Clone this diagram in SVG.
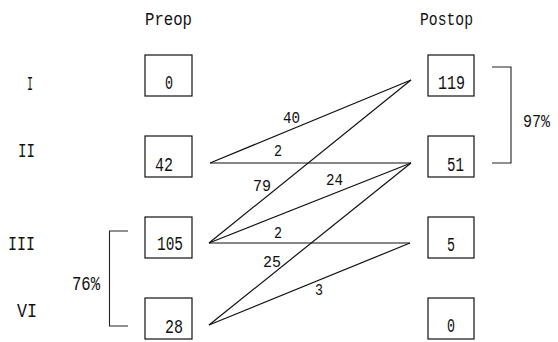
<svg xmlns="http://www.w3.org/2000/svg" width="558" height="342" viewBox="0 0 558 342">
  <style>
    .bg { fill: #ffffff; }
    .box { fill: #ffffff; stroke: #111; stroke-width: 1.2; }
    .t { font-family: "Liberation Mono", "DejaVu Sans Mono", monospace; fill: #111; }
    .head { font-size: 19px; }
    .row { font-size: 20px; }
    .pct { font-size: 18px; }
    .num { font-size: 21px; }
    .lbl { font-size: 16px; }
    .edge { stroke: #111; stroke-width: 1.2; fill: none; }
    .brk { stroke: #222; stroke-width: 1.1; fill: none; }
  </style>
  <rect class="bg" x="0" y="0" width="558" height="342"/>

  <!-- column headings -->
  <text class="t head" x="145" y="25" textLength="47" lengthAdjust="spacingAndGlyphs">Preop</text>
  <text class="t head" x="420" y="25" textLength="53" lengthAdjust="spacingAndGlyphs">Postop</text>

  <!-- grade labels -->
  <text class="t row" x="27" y="90" textLength="6" lengthAdjust="spacingAndGlyphs">I</text>
  <text class="t row" x="18" y="157" textLength="17" lengthAdjust="spacingAndGlyphs">II</text>
  <text class="t row" x="8" y="250" textLength="27" lengthAdjust="spacingAndGlyphs">III</text>
  <text class="t row" x="17" y="317" textLength="20" lengthAdjust="spacingAndGlyphs">VI</text>

  <!-- preop nodes -->
  <g id="pre-I">
    <rect class="box" x="145" y="55" width="47" height="41"/>
    <text class="t num" x="165" y="89" textLength="8" lengthAdjust="spacingAndGlyphs">0</text>
  </g>
  <g id="pre-II">
    <rect class="box" x="145" y="136" width="47" height="41"/>
    <text class="t num" x="155" y="171" textLength="18" lengthAdjust="spacingAndGlyphs">42</text>
  </g>
  <g id="pre-III">
    <rect class="box" x="145" y="217" width="47" height="41"/>
    <text class="t num" x="157" y="250" textLength="26" lengthAdjust="spacingAndGlyphs">105</text>
  </g>
  <g id="pre-VI">
    <rect class="box" x="145" y="298" width="47" height="41"/>
    <text class="t num" x="165" y="333" textLength="18" lengthAdjust="spacingAndGlyphs">28</text>
  </g>

  <!-- postop nodes -->
  <g id="post-I">
    <rect class="box" x="428" y="55" width="46" height="41"/>
    <text class="t num" x="438" y="89" textLength="27" lengthAdjust="spacingAndGlyphs">119</text>
  </g>
  <g id="post-II">
    <rect class="box" x="428" y="136" width="46" height="41"/>
    <text class="t num" x="447" y="171" textLength="17" lengthAdjust="spacingAndGlyphs">51</text>
  </g>
  <g id="post-III">
    <rect class="box" x="428" y="217" width="46" height="41"/>
    <text class="t num" x="447" y="251" textLength="8" lengthAdjust="spacingAndGlyphs">5</text>
  </g>
  <g id="post-VI">
    <rect class="box" x="428" y="298" width="46" height="41"/>
    <text class="t num" x="447" y="332" textLength="8" lengthAdjust="spacingAndGlyphs">0</text>
  </g>

  <!-- transitions between grades -->
  <g id="connectors">
    <line class="edge" x1="210" y1="163" x2="411" y2="80"/>
    <line class="edge" x1="210" y1="163" x2="411" y2="163"/>
    <line class="edge" x1="209" y1="243" x2="411" y2="80"/>
    <line class="edge" x1="209" y1="243" x2="411" y2="163"/>
    <line class="edge" x1="209" y1="243" x2="410" y2="243"/>
    <line class="edge" x1="209" y1="325" x2="411" y2="163"/>
    <line class="edge" x1="209" y1="325" x2="410" y2="243"/>
    <text class="t lbl" x="283" y="123" textLength="17" lengthAdjust="spacingAndGlyphs">40</text>
    <text class="t lbl" x="274" y="156" textLength="8" lengthAdjust="spacingAndGlyphs">2</text>
    <text class="t lbl" x="253" y="191" textLength="18" lengthAdjust="spacingAndGlyphs">79</text>
    <text class="t lbl" x="326" y="185" textLength="17" lengthAdjust="spacingAndGlyphs">24</text>
    <text class="t lbl" x="274" y="238" textLength="8" lengthAdjust="spacingAndGlyphs">2</text>
    <text class="t lbl" x="263" y="267" textLength="18" lengthAdjust="spacingAndGlyphs">25</text>
    <text class="t lbl" x="315" y="295" textLength="8" lengthAdjust="spacingAndGlyphs">3</text>
  </g>

  <!-- grouping brackets -->
  <path class="brk" d="M128 231 H109.5 V326 H128"/>
  <text class="t row" x="72" y="290" textLength="28" lengthAdjust="spacingAndGlyphs">76%</text>
  <path class="brk" d="M492 67 H511 V163 H492"/>
  <text class="t pct" x="523" y="127" textLength="27" lengthAdjust="spacingAndGlyphs">97%</text>
</svg>
